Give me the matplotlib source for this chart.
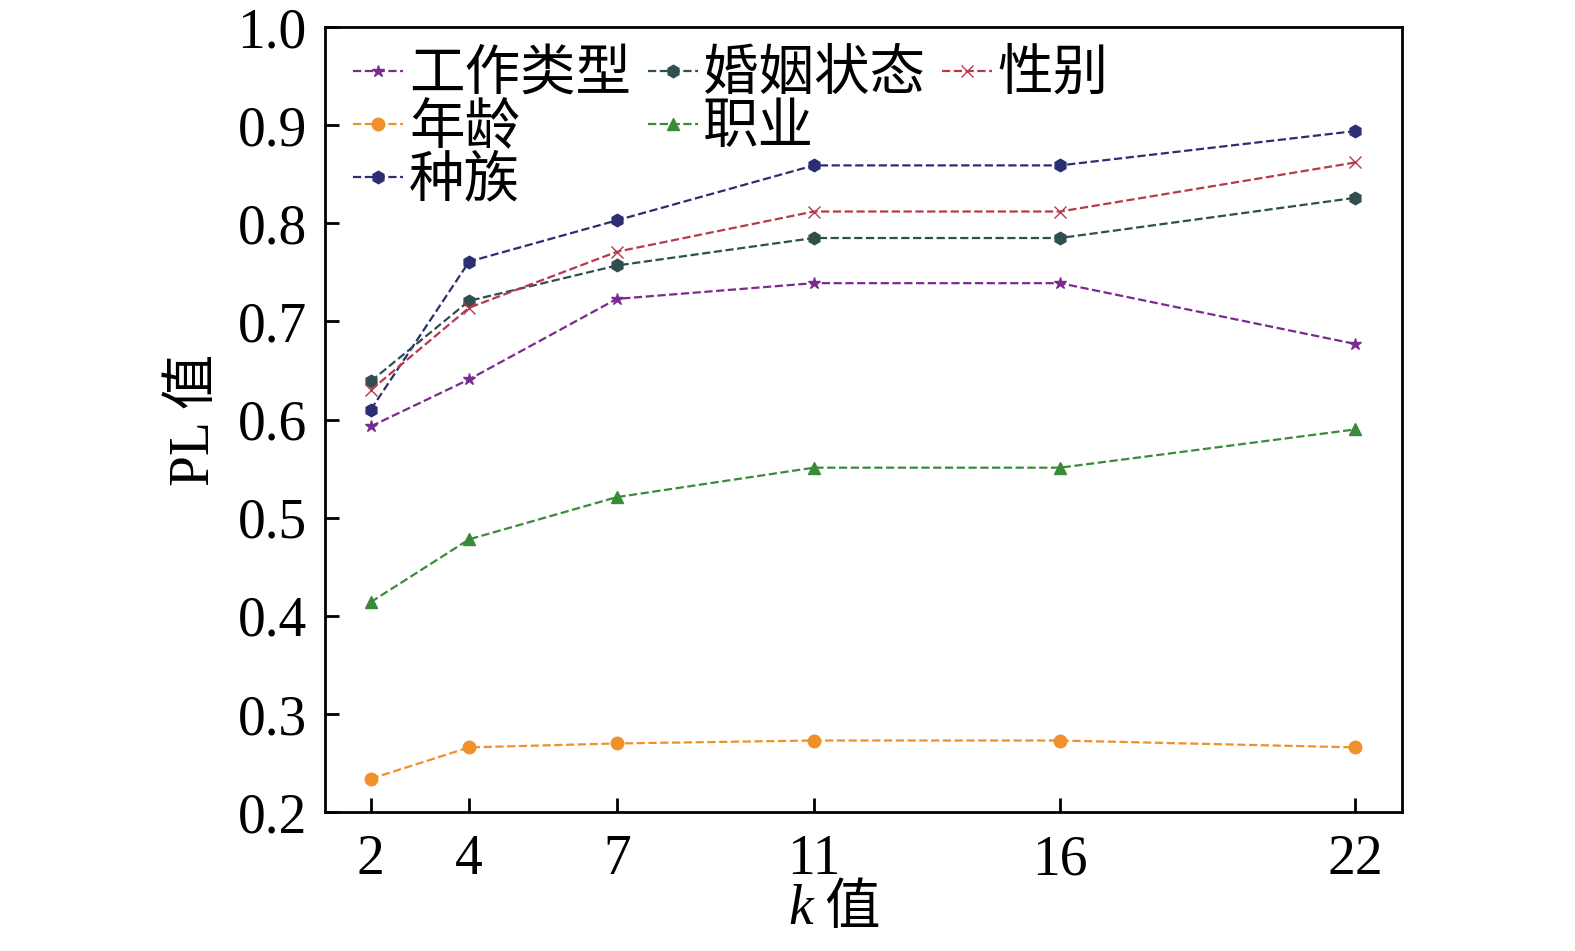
import matplotlib
matplotlib.use("Agg")
import matplotlib.pyplot as plt
from matplotlib.lines import Line2D

plt.rcParams['font.family'] = ['Liberation Serif', 'Noto Sans CJK SC']

k = [2, 4, 7, 11, 16, 22]
work_type = [0.593, 0.641, 0.723, 0.739, 0.739, 0.677]
age = [0.234, 0.266, 0.270, 0.273, 0.273, 0.266]
race = [0.610, 0.761, 0.803, 0.859, 0.859, 0.894]
marital = [0.639, 0.721, 0.757, 0.785, 0.785, 0.826]
occupation = [0.414, 0.478, 0.521, 0.551, 0.551, 0.590]
sex = [0.630, 0.714, 0.771, 0.812, 0.812, 0.862]

series = [
    ("工作类型", work_type, "#7b2a8f", "*"),
    ("年龄", age, "#f0902a", "o"),
    ("种族", race, "#2b2e72", "h"),
    ("婚姻状态", marital, "#2f4f4f", "h"),
    ("职业", occupation, "#3a8a3a", "^"),
    ("性别", sex, "#b83a4a", "x"),
]

fig = plt.figure(figsize=(15.75, 9.51), dpi=100)
ax = fig.add_axes([0.2063, 0.146, 0.684, 0.8256])

handles = {}
for name, vals, c, m in series:
    ln, = ax.plot(k, vals, linestyle="--", color=c, marker=m, markersize=9,
                  linewidth=1.6, label=name)
    handles[name] = ln

ax.set_xlim(1.07, 22.95)
ax.set_ylim(0.2, 1.0)
ax.set_xticks(k)
ax.set_yticks([0.2, 0.3, 0.4, 0.5, 0.6, 0.7, 0.8, 0.9, 1.0])
ax.yaxis.set_major_formatter(matplotlib.ticker.FormatStrFormatter("%.1f"))
ax.tick_params(direction="in", length=10, width=2, labelsize=40)
ax.tick_params(axis="y", pad=13)
ax.tick_params(axis="x", pad=16)
for s in ax.spines.values():
    s.set_linewidth(2)

fig.text(0.5086, 0.043, "k", fontsize=40, fontstyle="italic", ha="center", va="center")
fig.text(0.541, 0.043, "值", fontsize=40, ha="center", va="center")
ax.set_ylabel("PL 值", fontsize=40, labelpad=12)

# column-wise layout: 3 / 2 / 1 entries, padded with invisible handles
blank = Line2D([], [], linestyle="none")
order = [handles["工作类型"], handles["年龄"], handles["种族"],
         handles["婚姻状态"], handles["职业"], blank,
         handles["性别"], blank, blank]
labels = ["工作类型", "年龄", "种族", "婚姻状态", "职业", "", "性别", "", ""]
ax.legend(order, labels, ncol=3, loc="upper left", bbox_to_anchor=(0.011, 0.992),
          fontsize=40, frameon=False,
          handlelength=0.9, handletextpad=0.1, columnspacing=0.3,
          labelspacing=0.02, borderaxespad=0.1, borderpad=0.2)

fig.savefig("out.png", dpi=100)
